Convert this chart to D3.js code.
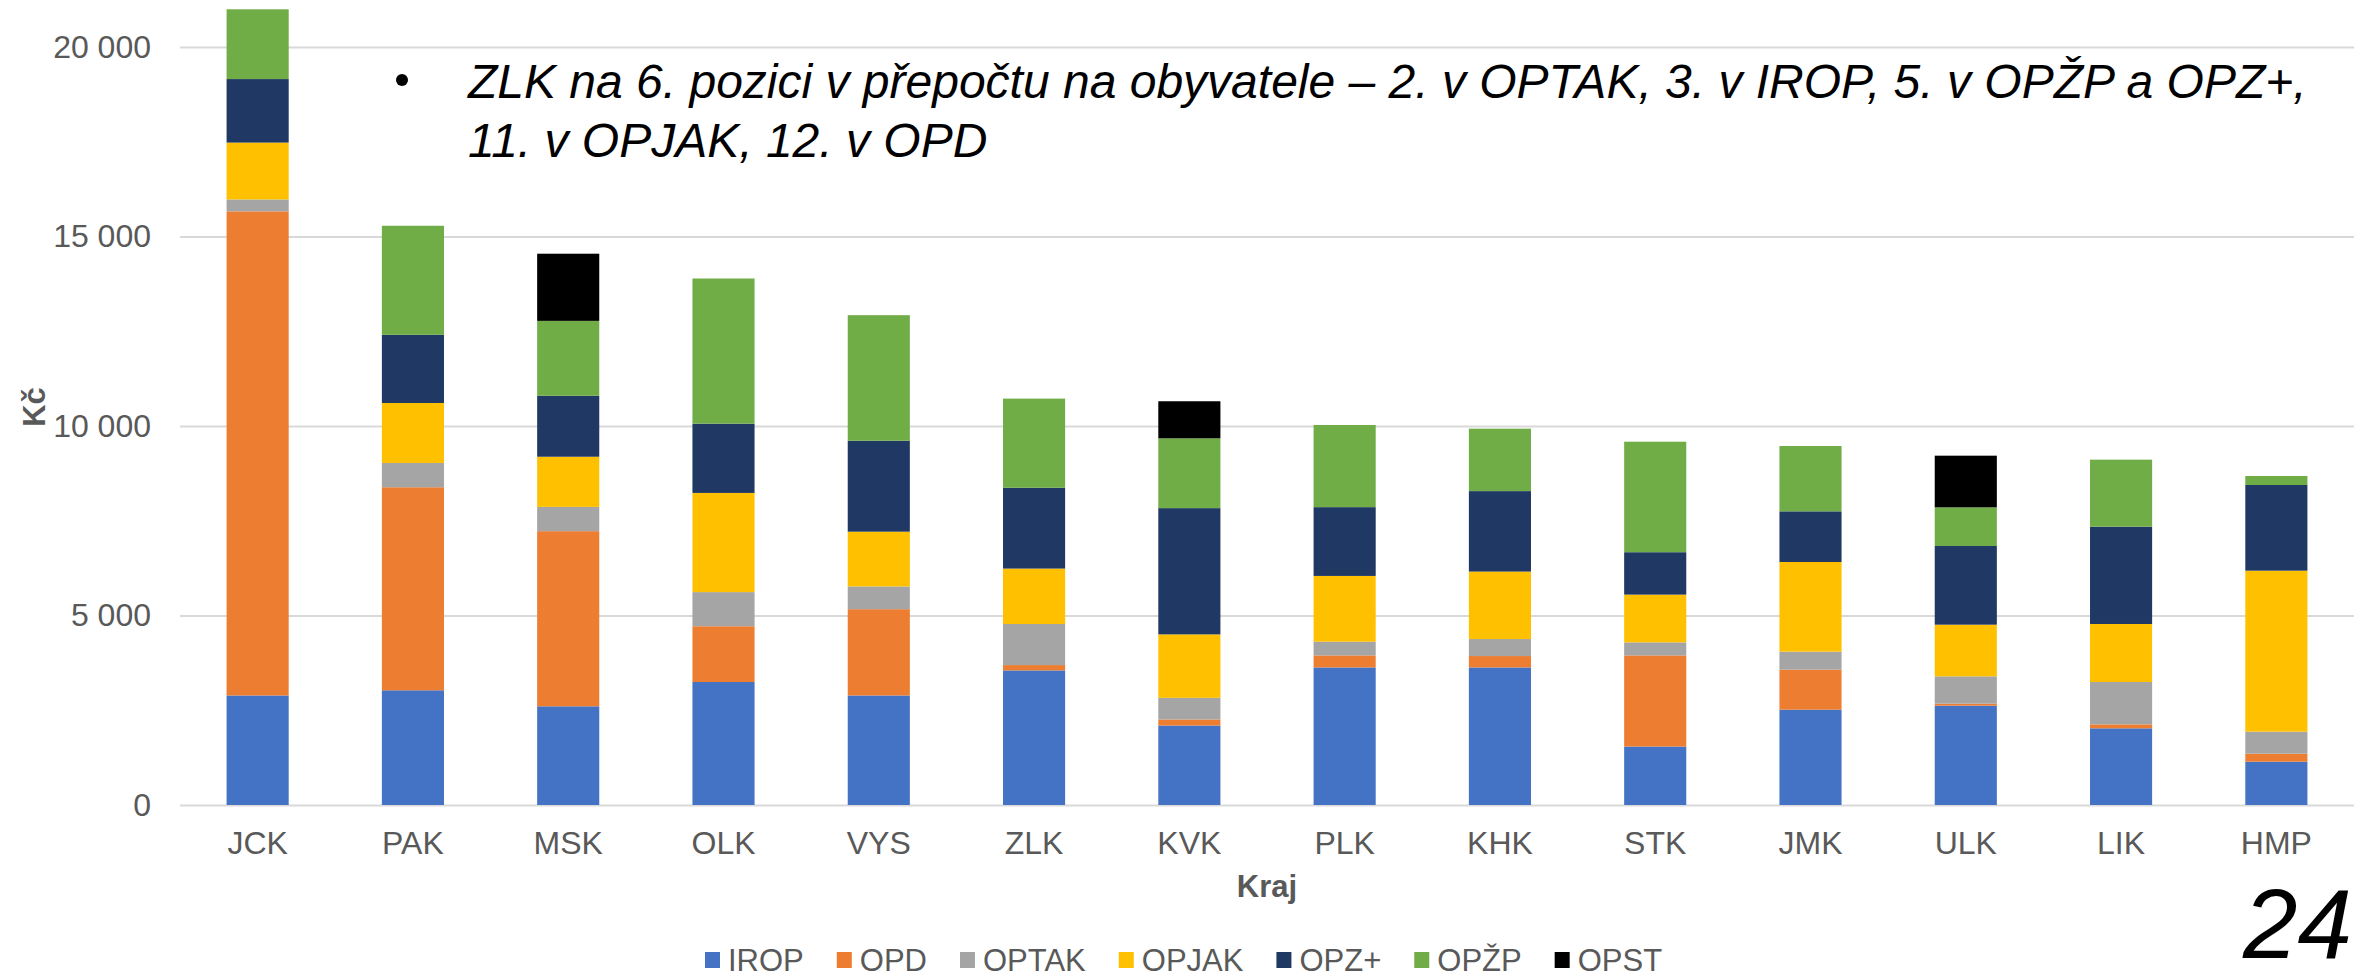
<!DOCTYPE html>
<html>
<head>
<meta charset="utf-8">
<script src="https://cdn.jsdelivr.net/npm/d3@7.9.0/dist/d3.min.js"></script>
<style>
  body { margin: 0; background: #fff; }
  svg { display: block; font-family: "Liberation Sans", Arial, sans-serif; }
  .axis path { display: none; }
  .axis text { fill: #595959; font-size: 32px; }
  .grid line { stroke: #d9d9d9; stroke-width: 2px; }
  .grid path, .grid text { display: none; }
</style>
</head>
<body>
<svg id="chart" width="2366" height="978"></svg>
<script>
// Kč na obyvatele podle kraje a programu
const kraje = ['JCK', 'PAK', 'MSK', 'OLK', 'VYS', 'ZLK', 'KVK', 'PLK', 'KHK', 'STK', 'JMK', 'ULK', 'LIK', 'HMP'];
const irop = [2890, 3027, 2604, 3245, 2890, 3551, 2097, 3630, 3630, 1542, 2515, 2621, 2023, 1143];
const opd = [12774, 5357, 4621, 1472, 2277, 141, 159, 317, 300, 2405, 1056, 53, 105, 211];
const optak = [314, 641, 641, 900, 600, 1084, 572, 362, 449, 344, 475, 721, 1117, 581];
const opjak = [1500, 1582, 1323, 2617, 1445, 1462, 1674, 1735, 1780, 1260, 2366, 1363, 1531, 4248];
const opzPlus = [1676, 1799, 1608, 1827, 2399, 2132, 3331, 1815, 2123, 1119, 1336, 2076, 2568, 2260];
const opzp = [1841, 2877, 1977, 3831, 3313, 2353, 1842, 2168, 1648, 2916, 1724, 1020, 1768, 238];
const opst = [0, 0, 1772, 0, 0, 0, 978, 0, 0, 0, 0, 1363, 0, 0];

const seriesNames = ['IROP', 'OPD', 'OPTAK', 'OPJAK', 'OPZ+', 'OPŽP', 'OPST'];
const seriesValues = [irop, opd, optak, opjak, opzPlus, opzp, opst];
const seriesColors = ['#4472c4', '#ed7d31', '#a5a5a5', '#ffc000', '#203864', '#70ad47', '#000000'];
const yTicks = [0, 5000, 10000, 15000, 20000];

const note1 = 'ZLK na 6. pozici v přepočtu na obyvatele – 2. v OPTAK, 3. v IROP, 5. v OPŽP a OPZ+,';
const note2 = '11. v OPJAK, 12. v OPD';

const rows = kraje.map((k, i) => {
    const row = { kraj: k };
    seriesNames.forEach((s, j) => { row[s] = seriesValues[j][i]; });
    return row;
});

const svg = d3.select('#chart');
const plotLeft = 180, plotRight = 2354, plotTop = 47, plotBottom = 805;

const x = d3.scaleBand().domain(kraje).range([plotLeft, plotRight]).paddingInner(0.6).paddingOuter(0.3);
const y = d3.scaleLinear().domain([0, 20000]).range([plotBottom, plotTop]);
const color = d3.scaleOrdinal().domain(seriesNames).range(seriesColors);

const cz = d3.formatLocale({ decimal: ',', thousands: ' ', grouping: [3], currency: ['', ' Kč'] });

// mřížka
svg.append('g')
    .attr('class', 'grid')
    .attr('transform', `translate(${plotLeft},0)`)
    .call(d3.axisLeft(y).tickValues(yTicks).tickSize(-(plotRight - plotLeft)).tickFormat(''));

const stacked = d3.stack().keys(seriesNames)(rows);

svg.append('g')
    .selectAll('g')
    .data(stacked)
    .join('g')
    .attr('fill', (d) => color(d.key))
    .selectAll('rect')
    .data((d) => d.filter((p) => p[1] - p[0] > 0))
    .join('rect')
    .attr('x', (d) => x(d.data.kraj))
    .attr('width', x.bandwidth())
    .attr('y', (d) => y(d[1]))
    .attr('height', (d) => y(d[0]) - y(d[1]));

svg.append('g')
    .attr('class', 'axis')
    .attr('transform', `translate(${plotLeft},0)`)
    .call(d3.axisLeft(y).tickValues(yTicks).tickSize(0).tickPadding(29).tickFormat(cz.format(',d')));

svg.append('g')
    .attr('class', 'axis')
    .attr('transform', `translate(0,${plotBottom})`)
    .call(d3.axisBottom(x).tickSize(0).tickPadding(26));

// popisky os
svg.append('text')
    .attr('transform', 'translate(45,407) rotate(-90)')
    .attr('text-anchor', 'middle')
    .attr('font-size', 31)
    .attr('font-weight', 'bold')
    .attr('fill', '#595959')
    .text('Kč');

svg.append('text')
    .attr('x', (plotLeft + plotRight) / 2)
    .attr('y', 897)
    .attr('text-anchor', 'middle')
    .attr('font-size', 31)
    .attr('font-weight', 'bold')
    .attr('fill', '#595959')
    .text('Kraj');

// legenda
const legend = svg.append('g').attr('transform', 'translate(705,0)');
let lx = 0;
seriesNames.forEach((s) => {
    legend.append('rect')
        .attr('x', lx).attr('y', 952)
        .attr('width', 15).attr('height', 16)
        .attr('fill', color(s));
    const t = legend.append('text')
        .attr('x', lx + 23).attr('y', 971)
        .attr('font-size', 31)
        .attr('fill', '#595959')
        .text(s);
    lx += 23 + t.node().getComputedTextLength() + 33;
});

// poznámka
svg.append('circle').attr('cx', 402).attr('cy', 80).attr('r', 6).attr('fill', '#000');
svg.append('text')
    .attr('x', 468).attr('y', 98)
    .attr('font-size', 48).attr('font-style', 'italic')
    .text(note1);
svg.append('text')
    .attr('x', 468).attr('y', 157)
    .attr('font-size', 48).attr('font-style', 'italic')
    .text(note2);

svg.append('text')
    .attr('x', 2352).attr('y', 958)
    .attr('text-anchor', 'end')
    .attr('font-size', 98).attr('font-style', 'italic')
    .text('24');
</script>
</body>
</html>
